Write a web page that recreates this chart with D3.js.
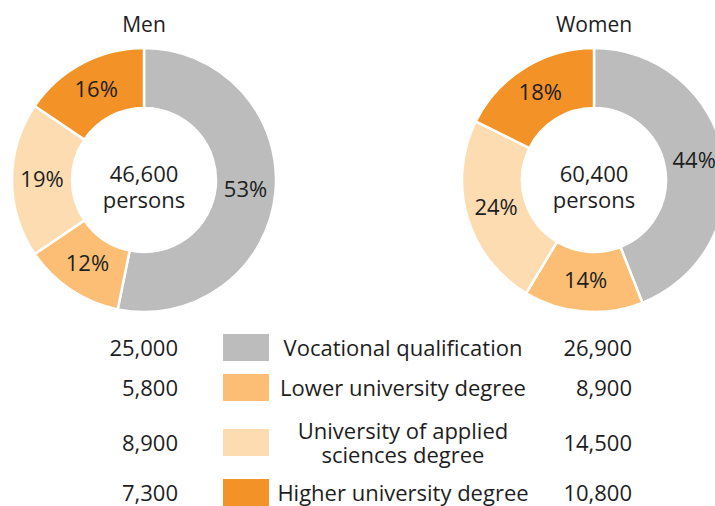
<!DOCTYPE html>
<html><head><meta charset="utf-8">
<script src="https://cdn.jsdelivr.net/npm/d3@7"></script>
<style>
html,body{margin:0;padding:0;background:#fff;}
svg{display:block;}
text{font-family:"Open Sans",sans-serif;fill:#1e1e1e;}
</style></head><body>
<svg id="chart" width="715" height="506"></svg>
<script>
const categories = ["Vocational qualification","Lower university degree","University of applied sciences degree","Higher university degree"];
const legendLines = [["Vocational qualification"],["Lower university degree"],["University of applied","sciences degree"],["Higher university degree"]];
const colors = ["#bbbcbb","#fbbe74","#fddcb2","#f39226"];
const groups = ["Men","Women"];
const totals = ["46,600","60,400"];
const menValues = [25000,5800,8900,7300];
const womenValues = [26900,8900,14500,10800];
const menPct = ["53%","12%","19%","16%"];
const womenPct = ["44%","14%","24%","18%"];

const svg = d3.select("#chart");
const fmt = d3.format(",");
const color = d3.scaleOrdinal().domain(categories).range(colors);
const outerR = 132, innerR = 72;
const FS = 22;
const pie = d3.pie().sort(null).value(d => d.v);
const arc = d3.arc().innerRadius(innerR).outerRadius(outerR);
const labelArc = d3.arc().innerRadius((innerR+outerR)/2).outerRadius((innerR+outerR)/2);

const donuts = [
  {name: groups[0], cx: 144, cy: 180, values: menValues, pct: menPct, total: totals[0]},
  {name: groups[1], cx: 594, cy: 180, values: womenValues, pct: womenPct, total: totals[1]}
];

donuts.forEach(dn => {
  const g = svg.append("g").attr("transform", `translate(${dn.cx},${dn.cy})`);
  const data = pie(dn.values.map((v,i) => ({v, c: categories[i], p: dn.pct[i]})));
  g.selectAll("path").data(data).join("path")
    .attr("d", arc)
    .attr("fill", d => color(d.data.c))
    .attr("stroke", "#fff").attr("stroke-width", 2.5);
  g.selectAll("text.pct").data(data).join("text").attr("class","pct")
    .attr("x", d => labelArc.centroid(d)[0])
    .attr("y", d => labelArc.centroid(d)[1])
    .attr("dy", "0.3em")
    .attr("text-anchor","middle")
    .attr("font-size", FS)
    .text(d => d.data.p);
  g.append("text").attr("x",0).attr("y",-148).attr("text-anchor","middle").attr("font-size",21).text(dn.name);
  const ct = g.append("text").attr("text-anchor","middle").attr("font-size",FS);
  ct.append("tspan").attr("x",0).attr("y",2).text(dn.total);
  ct.append("tspan").attr("x",0).attr("y",28).text("persons");
});

const rowY = [348, 388, 443, 493];
const leg = svg.append("g");
categories.forEach((c,i) => {
  const y = rowY[i];
  leg.append("rect").attr("x",223).attr("y",y-14).attr("width",46).attr("height",27).attr("fill",color(c));
  leg.append("text").attr("x",178).attr("y",y).attr("dy","0.36em").attr("text-anchor","end").attr("font-size",FS).text(fmt(menValues[i]));
  leg.append("text").attr("x",632).attr("y",y).attr("dy","0.36em").attr("text-anchor","end").attr("font-size",FS).text(fmt(womenValues[i]));
  const lines = legendLines[i];
  const t = leg.append("text").attr("text-anchor","middle").attr("font-size",FS);
  lines.forEach((ln,j) => {
    t.append("tspan").attr("x",403).attr("y", y + (j - (lines.length-1)/2)*24)
      .attr("dy","0.36em").text(ln);
  });
});
</script></body></html>
